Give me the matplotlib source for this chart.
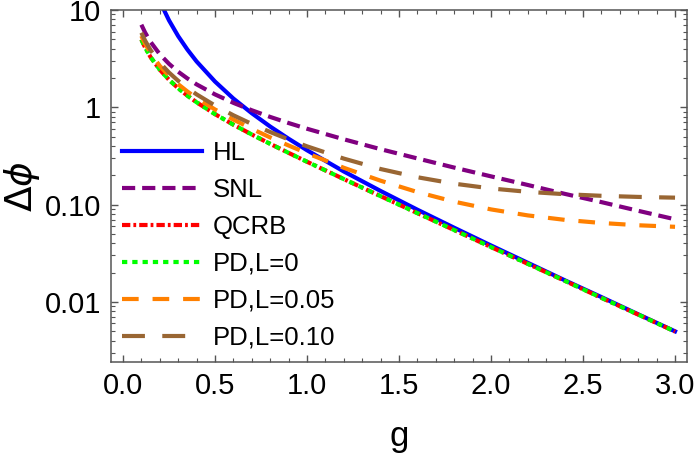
import numpy as np
import matplotlib
matplotlib.use('Agg')
import matplotlib.pyplot as plt
from matplotlib.ticker import MultipleLocator, LogLocator, FixedLocator, FixedFormatter, NullFormatter

# values (g on x, delta phi on y, log scale)
g = [0.1, 0.12, 0.15, 0.2, 0.25, 0.3, 0.35, 0.4, 0.5, 0.6, 0.7, 0.8, 0.9,
     1.0, 1.2, 1.4, 1.6, 1.8, 2.0, 2.2, 2.4, 2.6, 2.8, 3.0]

g_hl = [0.2, 0.25, 0.3, 0.35, 0.4, 0.5, 0.6, 0.7, 0.8, 0.9,
        1.0, 1.2, 1.4, 1.6, 1.8, 2.0, 2.2, 2.4, 2.6, 2.8, 3.0]
hl = [12.3, 7.84, 5.39, 3.92, 2.96, 1.84, 1.23, 0.869, 0.634, 0.475,
      0.362, 0.219, 0.138, 0.0886, 0.0578, 0.038, 0.0252, 0.0167, 0.0112, 0.00745, 0.00498]

snl = [7.06, 5.88, 4.70, 3.51, 2.80, 2.32, 1.98, 1.72, 1.357, 1.111, 0.932, 0.796, 0.689,
       0.602, 0.469, 0.371, 0.298, 0.240, 0.195, 0.159, 0.129, 0.106, 0.0863, 0.0706]

qcrb = [4.97, 4.13, 3.28, 2.435, 1.919, 1.571, 1.318, 1.126, 0.851, 0.6625, 0.525, 0.421, 0.340,
        0.2757, 0.1829, 0.1221, 0.0817, 0.0547, 0.0366, 0.0246, 0.0165, 0.0110, 0.0074, 0.00496]

pd_l0 = [4.97, 4.13, 3.28, 2.435, 1.919, 1.571, 1.318, 1.126, 0.851, 0.6625, 0.525, 0.421, 0.340,
         0.2757, 0.1829, 0.1221, 0.0817, 0.0547, 0.0366, 0.0246, 0.0165, 0.0110, 0.0074, 0.00496]

pd_l005 = [5.42, 4.51, 3.59, 2.665, 2.105, 1.727, 1.454, 1.246, 0.950, 0.748, 0.601, 0.490, 0.405,
           0.337, 0.239, 0.176, 0.1345, 0.1071, 0.0892, 0.0774, 0.0697, 0.0647, 0.0613, 0.0591]

pd_l010 = [5.84, 4.86, 3.87, 2.88, 2.277, 1.872, 1.580, 1.358, 1.043, 0.828, 0.674, 0.557, 0.468,
           0.397, 0.297, 0.232, 0.191, 0.164, 0.1465, 0.1352, 0.1279, 0.1231, 0.1199, 0.1178]

labels = ['HL', 'SNL', 'QCRB', 'PD,L=0', 'PD,L=0.05', 'PD,L=0.10']

plt.rcParams['font.family'] = ['Liberation Sans', 'DejaVu Sans']
plt.rcParams['lines.scale_dashes'] = False
plt.rcParams['mathtext.fontset'] = 'dejavusans'

fig = plt.figure(figsize=(6.94, 4.59), dpi=100)
ax = fig.add_axes([111 / 694, 1 - 362 / 459, 576 / 694, 352 / 459])

lw = 3.0
ax.plot(g_hl, hl, color='#0000ff', lw=lw, label=labels[0])
ax.plot(g, snl, color='#800080', lw=lw, dashes=(9.5, 5), label=labels[1])
ax.plot(g, qcrb, color='#ff0000', lw=lw, dashes=(6, 2.2, 2, 2.2), label=labels[2])
ax.plot(g, pd_l0, color='#00ff00', lw=lw, dashes=(3.8, 3.6), label=labels[3])
ax.plot(g, pd_l005, color='#ff8000', lw=lw, dashes=(12, 10), label=labels[4])
ax.plot(g, pd_l010, color='#996633', lw=lw, dashes=(16.5, 12.5), label=labels[5])

ax.set_yscale('log')
ax.set_xlim(-0.065, 3.065)
ax.set_ylim(0.00241, 10)

# ticks on all four sides, pointing in
ax.xaxis.set_major_locator(MultipleLocator(0.5))
ax.xaxis.set_minor_locator(MultipleLocator(0.1))
ax.yaxis.set_major_locator(FixedLocator([0.01, 0.1, 1, 10]))
ax.yaxis.set_major_formatter(FixedFormatter(['0.01', '0.10', '1', '10']))
ax.yaxis.set_minor_locator(LogLocator(base=10, subs=np.arange(2, 10)))
ax.yaxis.set_minor_formatter(NullFormatter())
ax.tick_params(which='both', direction='in', top=True, right=True,
               color='#555555', labelsize=21, labelcolor='black')
ax.tick_params(which='major', length=5, width=1, pad=7)
ax.tick_params(which='minor', length=3, width=0.8)
for s in ax.spines.values():
    s.set_color('#555555')
    s.set_linewidth(1.1)

ax.set_xlabel('g', fontsize=25)
ax.set_ylabel(r'$\Delta\phi$', fontsize=27)
ax.xaxis.set_label_coords(0.5, -0.165)
ax.yaxis.set_label_coords(-0.12, 0.5)

ax.legend(loc='center left', bbox_to_anchor=(0.019, 0.331), frameon=False,
          fontsize=18.5, handlelength=3.1, handletextpad=0.45, labelspacing=0.5,
          borderpad=0, borderaxespad=0)

fig.savefig('out.png', dpi=100)
